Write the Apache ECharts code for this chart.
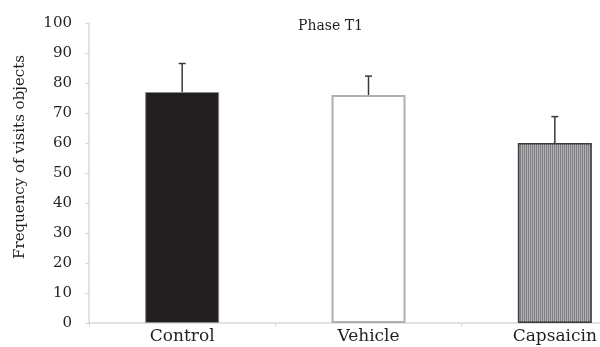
<!DOCTYPE html>
<html>
<head>
<meta charset="utf-8">
<script src="https://cdn.jsdelivr.net/npm/echarts@6/dist/echarts.min.js"></script>
<style>
  html, body { margin: 0; padding: 0; background: #fff; }
  #chart { width: 600px; height: 347px; }
</style>
</head>
<body>
<div id="chart"></div>
<script>
// Visits to objects during phase T1, mean with upper error bar
var categories = ['Control', 'Vehicle', 'Capsaicin'];
var means = [77, 76, 60];
var errorTops = [86.5, 82.3, 68.8];
var yTicks = { min: 0, max: 100, interval: 10 };
var titleText = 'Phase T1';
var yName = 'Frequency of visits objects';

// Fine vertical-stripe fill for the third bar
function stripePattern() {
  var c = document.createElement('canvas');
  c.width = 2; c.height = 4;
  var ctx = c.getContext('2d');
  ctx.fillStyle = '#b0b0b4';
  ctx.fillRect(0, 0, 2, 4);
  ctx.fillStyle = '#808084';
  ctx.fillRect(0, 0, 1, 4);
  return c;
}

var barStyles = [
  { color: '#231f20', borderColor: '#8a8a8a', borderWidth: 1 },
  { color: '#ffffff', borderColor: '#b0b0b0', borderWidth: 2 },
  { color: { image: stripePattern(), repeat: 'repeat' }, borderColor: '#3a3a3a', borderWidth: 1.5 }
];

var barData = means.map(function (v, i) {
  return { value: v, itemStyle: barStyles[i] };
});

var errData = categories.map(function (c, i) { return [i, means[i], errorTops[i]]; });

var font = 'DejaVu Serif';
var chart = echarts.init(document.getElementById('chart'), null, { renderer: 'canvas' });

chart.setOption({
  animation: false,
  backgroundColor: '#ffffff',
  // the plot area runs past the right edge of the canvas
  grid: { left: 89, top: 23, bottom: 24, width: 559, containLabel: false, outerBoundsMode: 'none' },
  xAxis: {
    type: 'category',
    data: categories,
    axisLine: { lineStyle: { color: '#d9d9d9', width: 1.5 } },
    axisTick: { show: true, length: 4, lineStyle: { color: '#d9d9d9' } },
    axisLabel: { fontFamily: font, fontSize: 17, color: '#231f20', margin: 5 }
  },
  yAxis: {
    type: 'value',
    min: yTicks.min,
    max: yTicks.max,
    interval: yTicks.interval,
    splitLine: { show: false },
    axisLine: { show: true, lineStyle: { color: '#d9d9d9', width: 1.5 } },
    axisTick: { show: true, length: 4, lineStyle: { color: '#d9d9d9' } },
    axisLabel: { fontFamily: font, fontSize: 15, color: '#231f20', margin: 17 }
  },
  graphic: [
    {
      type: 'text', left: 298, top: 19,
      style: { text: titleText, font: '14px "' + font + '"', fill: '#231f20' }
    },
    {
      type: 'text', x: 20, y: 157, rotation: Math.PI / 2,
      style: { text: yName, font: '15px "' + font + '"', fill: '#231f20',
               align: 'center', verticalAlign: 'middle' }
    }
  ],
  series: [
    {
      type: 'bar',
      data: barData,
      barWidth: 74
    },
    {
      type: 'custom',
      data: errData,
      z: 5,
      renderItem: function (params, api) {
        var x = api.value(0);
        var base = api.coord([x, api.value(1)]);
        var top = api.coord([x, api.value(2)]);
        var half = 3.5;
        var st = { stroke: '#3a3a3a', lineWidth: 1.5 };
        return {
          type: 'group',
          children: [
            { type: 'line', shape: { x1: base[0], y1: base[1], x2: top[0], y2: top[1] }, style: st },
            { type: 'line', shape: { x1: top[0] - half, y1: top[1], x2: top[0] + half, y2: top[1] }, style: st }
          ]
        };
      }
    }
  ]
});
</script>
</body>
</html>
